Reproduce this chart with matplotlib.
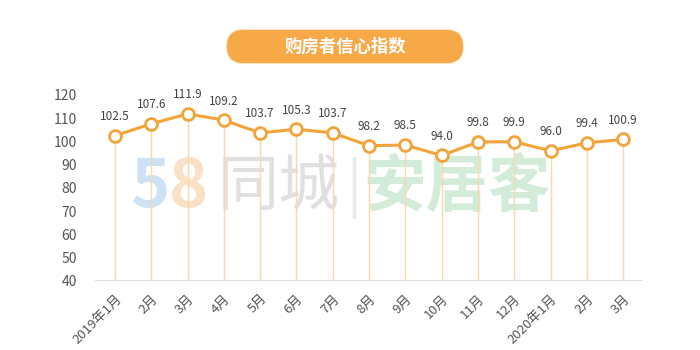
import matplotlib
matplotlib.use("Agg")
import matplotlib.pyplot as plt
from matplotlib.patches import FancyBboxPatch

plt.rcParams['font.family'] = ['Noto Sans CJK SC', 'DejaVu Sans']

# data
months = ["2019年1月", "2月", "3月", "4月", "5月", "6月", "7月", "8月", "9月",
          "10月", "11月", "12月", "2020年1月", "2月", "3月"]
index_values = [102.5, 107.6, 111.9, 109.2, 103.7, 105.3, 103.7, 98.2, 98.5,
                94.0, 99.8, 99.9, 96.0, 99.4, 100.9]
y_ticks = [40, 50, 60, 70, 80, 90, 100, 110, 120]
title = "购房者信心指数"

orange = '#F2A33A'
x = list(range(len(months)))

fig = plt.figure(figsize=(7, 3.5), dpi=100)
ax = fig.add_axes([95 / 700, 69 / 350, 547 / 700, 186 / 350])

# watermark
ax.text(0.065, 0.5, "5", transform=ax.transAxes, fontsize=48, color='#9CC8EC',
        alpha=0.5, ha='left', va='center', zorder=0, fontweight='bold')
ax.text(0.135, 0.5, "8", transform=ax.transAxes, fontsize=48, color='#F6C48E',
        alpha=0.5, ha='left', va='center', zorder=0, fontweight='bold')
ax.text(0.225, 0.5, "同城", transform=ax.transAxes, fontsize=44, color='#9A9A9A',
        alpha=0.3, ha='left', va='center', zorder=0)
ax.text(0.46, 0.5, "|", transform=ax.transAxes, fontsize=40, color='#BBBBBB',
        alpha=0.3, ha='left', va='center', zorder=0)
ax.text(0.49, 0.5, "安居客", transform=ax.transAxes, fontsize=45, color='#7CC48E',
        alpha=0.33, ha='left', va='center', zorder=0, fontweight='bold')

# drop lines
ax.vlines(x, 40, index_values, colors='#F6D9AC', lw=1, zorder=1)
ax.axhline(40, color='#DDDDDD', lw=1.5, zorder=1)

ax.plot(x, index_values, color=orange, lw=2.2, marker='o', markersize=8.5,
        markerfacecolor='white', markeredgecolor=orange, markeredgewidth=2, zorder=3)

for xi, v in zip(x, index_values):
    ax.annotate("%.1f" % v, (xi, v), xytext=(0, 9), textcoords='offset points',
                ha='center', va='bottom', fontsize=8.5, color='#444444')

ax.set_xlim(-0.55, 14.52)
ax.set_ylim(40, 120)
ax.set_yticks(y_ticks)
ax.set_yticklabels([str(t) for t in y_ticks], fontsize=10, color='#555555')
ax.set_xticks(x)
ax.set_xticklabels(months, rotation=45, ha='right', rotation_mode='anchor',
                   fontsize=9.5, color='#555555')
ax.tick_params(axis='both', length=0)
ax.tick_params(axis='y', pad=13)
ax.tick_params(axis='x', pad=8)
for s in ax.spines.values():
    s.set_visible(False)

# title pill, drawn in a pixel-scaled axes so the ends are round
tax = fig.add_axes([222 / 700, 282 / 350, 246 / 700, 43 / 350])
tax.set_xlim(0, 246)
tax.set_ylim(0, 43)
tax.axis('off')
tax.add_patch(FancyBboxPatch((4, 4), 238, 35, boxstyle="round,pad=0,rounding_size=17.5",
                             facecolor='#FCE3C0', edgecolor='none'))
tax.add_patch(FancyBboxPatch((5, 5), 236, 33, boxstyle="round,pad=0,rounding_size=16.5",
                             facecolor='#F7A847', edgecolor='none'))
tax.text(123, 21.5, title, ha='center', va='center', fontsize=12.5,
         color='white', fontweight='bold')

fig.savefig("out.png", dpi=100)
